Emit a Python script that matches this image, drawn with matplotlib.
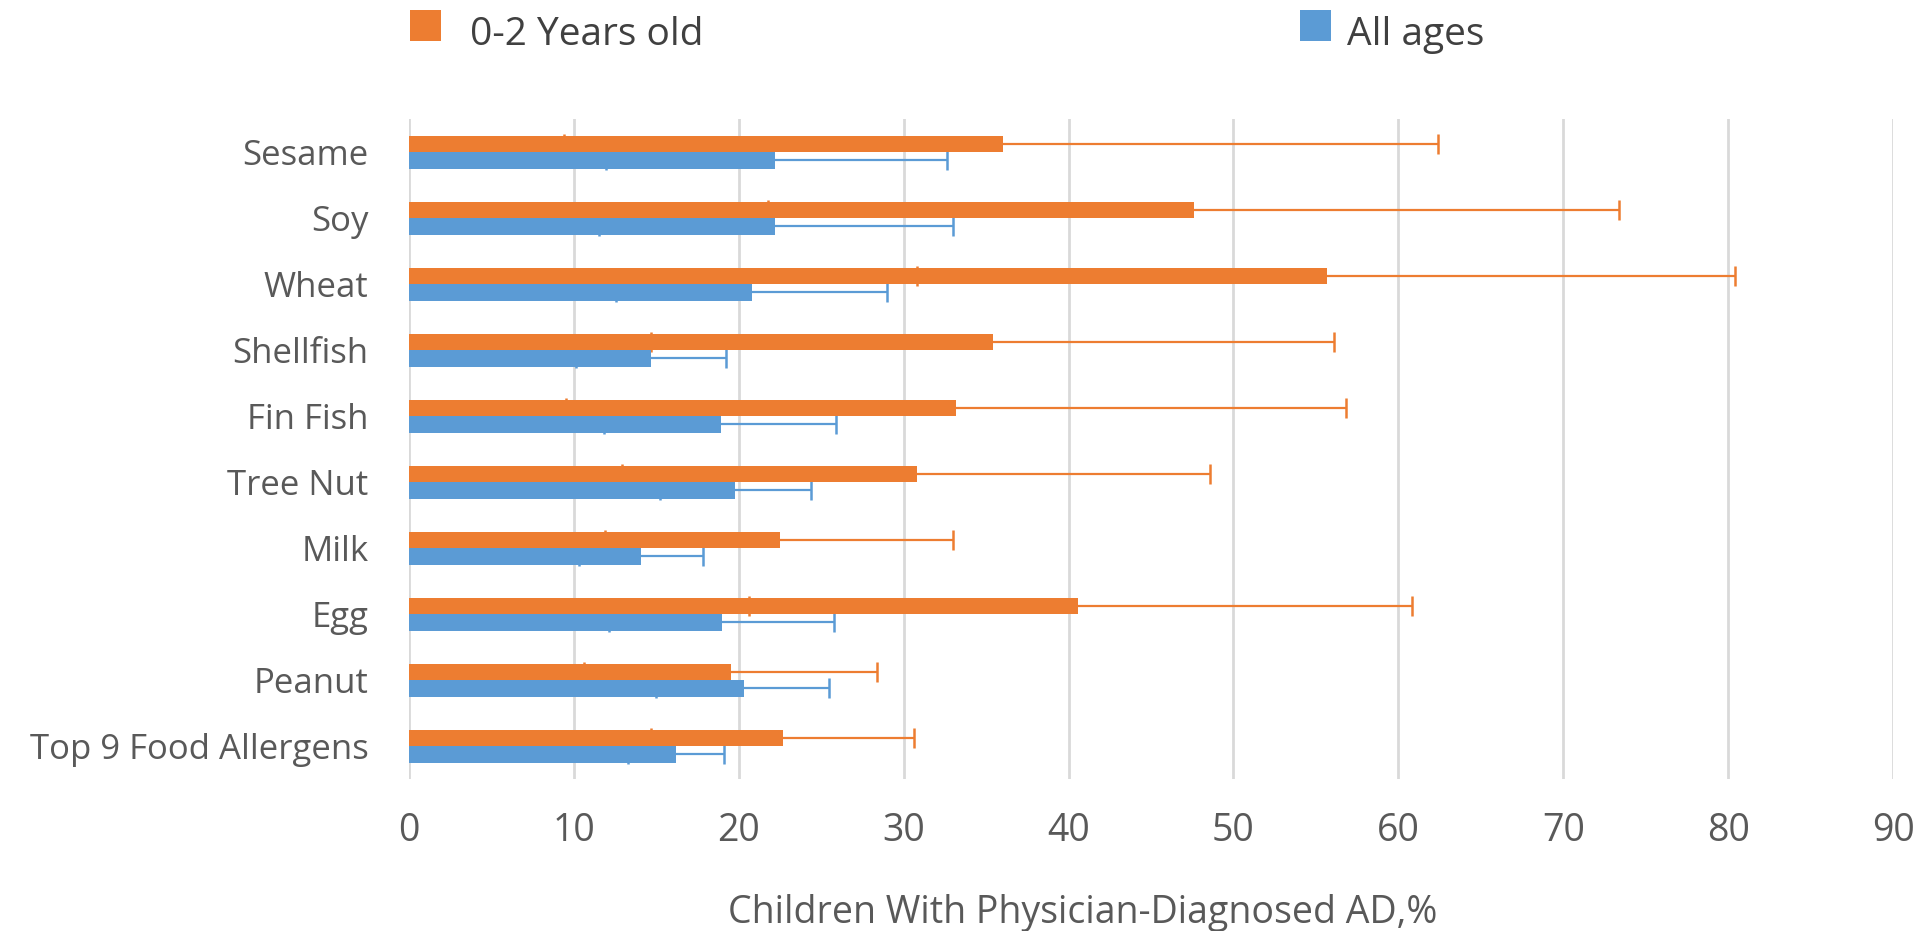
import matplotlib
matplotlib.use("Agg")
import matplotlib.pyplot as plt
from matplotlib.patches import Rectangle
import numpy as np

plt.rcParams['font.family'] = ['Open Sans', 'DejaVu Sans']

categories = ["Top 9 Food Allergens", "Peanut", "Egg", "Milk", "Tree Nut",
              "Fin Fish", "Shellfish", "Wheat", "Soy", "Sesame"]

young = [22.7, 19.5, 40.6, 22.5, 30.8, 33.2, 35.4, 55.7, 47.6, 36.0]
young_low = [14.7, 10.6, 20.6, 11.9, 12.9, 9.5, 14.7, 30.8, 21.8, 9.4]
young_high = [30.6, 28.4, 60.8, 33.0, 48.6, 56.8, 56.1, 80.4, 73.4, 62.4]

allages = [16.2, 20.3, 19.0, 14.1, 19.8, 18.9, 14.7, 20.8, 22.2, 22.2]
all_low = [13.3, 15.0, 12.1, 10.3, 15.2, 11.8, 10.1, 12.55, 11.5, 11.95]
all_high = [19.1, 25.5, 25.8, 17.8, 24.4, 25.9, 19.2, 29.0, 33.0, 32.6]

xticks = [0, 10, 20, 30, 40, 50, 60, 70, 80, 90]

ORANGE = "#ED7D31"
BLUE = "#5B9BD5"
TXT = "#595959"

fig = plt.figure(figsize=(19.2, 9.31), dpi=100)
ax = fig.add_axes([409/1920, 1-779/931, (1893-409)/1920, (779-119)/931])

y = np.arange(len(categories))
h = 0.25

young_a = np.array(young); all_a = np.array(allages)
ax.errorbar(young_a, y + h/2, xerr=[young_a - np.array(young_low), np.array(young_high) - young_a],
            fmt='none', ecolor=ORANGE, elinewidth=1.6, capsize=7, capthick=1.8, zorder=2)
ax.errorbar(all_a, y - h/2, xerr=[all_a - np.array(all_low), np.array(all_high) - all_a],
            fmt='none', ecolor=BLUE, elinewidth=1.6, capsize=7, capthick=1.8, zorder=2)
ax.barh(y + h/2, young_a, height=h, color=ORANGE, zorder=3)
ax.barh(y - h/2, all_a, height=h, color=BLUE, zorder=3)

ax.set_xlim(0, 90)
ax.set_ylim(-0.5, len(categories) - 0.5)
ax.set_xticks(xticks)
ax.set_xticklabels([str(t) for t in xticks])
ax.set_yticks(y)
ax.set_yticklabels(categories)
ax.tick_params(axis='both', length=0, colors=TXT)
ax.tick_params(axis='y', labelsize=25, pad=29)
ax.tick_params(axis='x', labelsize=27, pad=24)
ax.grid(axis='x', color="#D9D9D9", linewidth=2, zorder=0)
ax.set_axisbelow(True)
for s in ax.spines.values():
    s.set_visible(False)

fig.text((714+1451)/2/1920, 1-913/931, "Children With Physician-Diagnosed AD,%",
         ha='center', va='center', fontsize=27, color=TXT)

# legend
fig.add_artist(Rectangle((410/1920, 1-41/931), 31/1920, 31/931, transform=fig.transFigure,
                         color=ORANGE, lw=0))
fig.text(470/1920, 1-35/931, "0-2 Years old", ha='left', va='center', fontsize=28, color="#404040")
fig.add_artist(Rectangle((1300/1920, 1-41/931), 31/1920, 31/931, transform=fig.transFigure,
                         color=BLUE, lw=0))
fig.text(1347/1920, 1-35/931, "All ages", ha='left', va='center', fontsize=28, color="#404040")

fig.savefig("out.png", dpi=100)
